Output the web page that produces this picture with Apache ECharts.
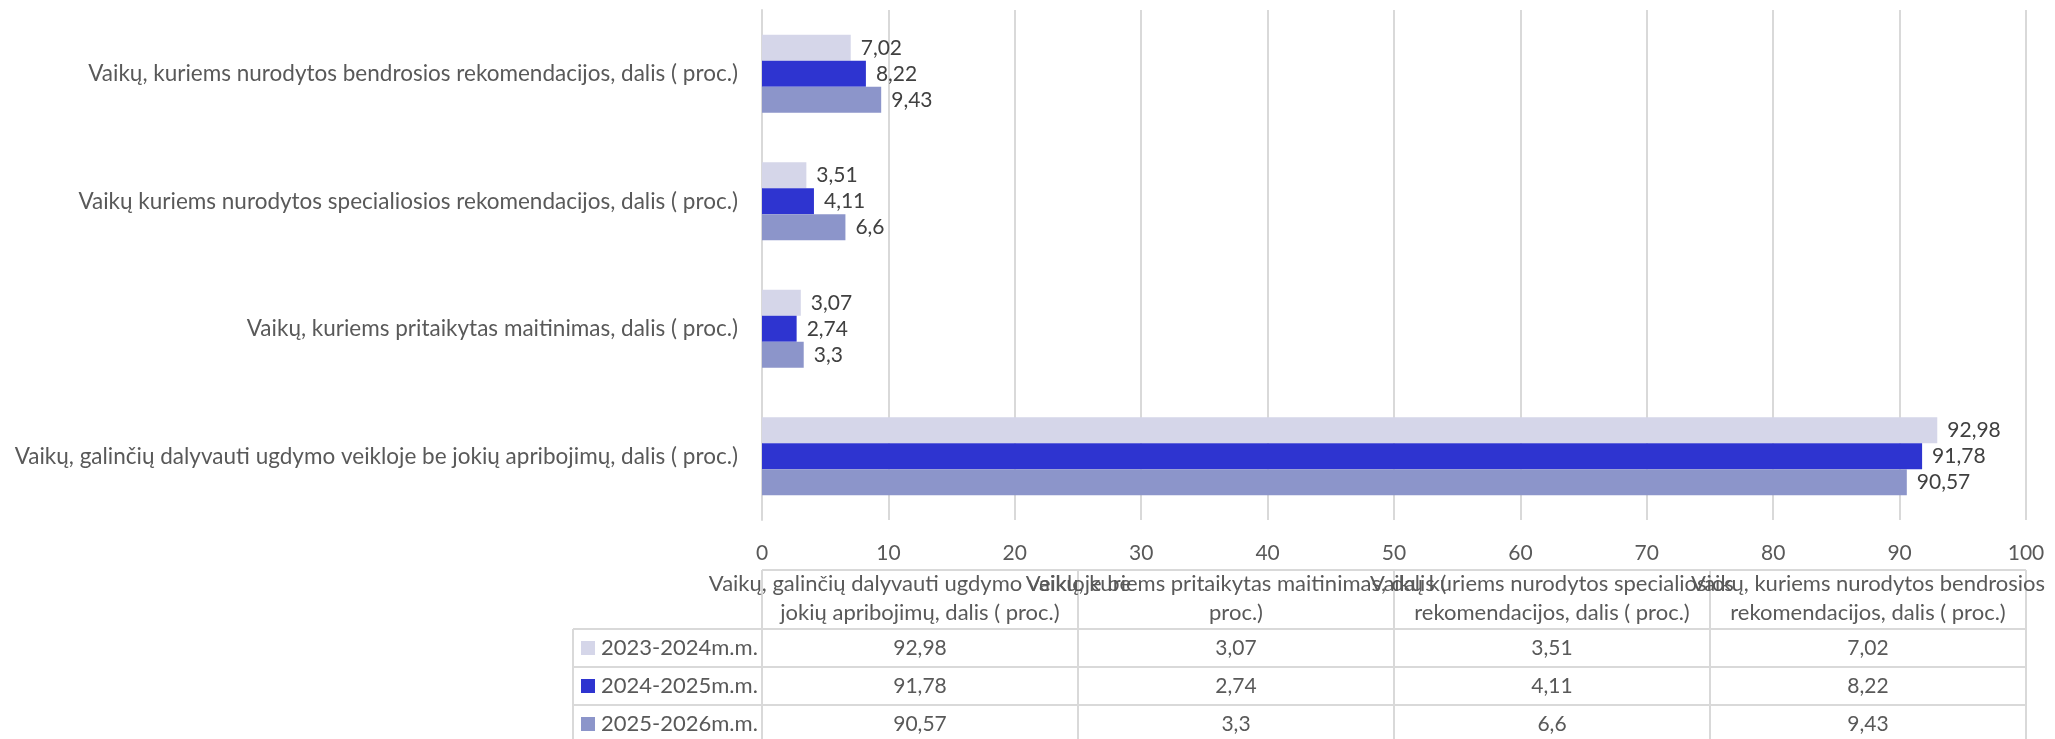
<!DOCTYPE html>
<html>
<head>
<meta charset="utf-8">
<title>Vaikų dalis</title>
<script src="https://cdn.jsdelivr.net/npm/echarts@6/dist/echarts.min.js"></script>
<style>
  html, body { margin: 0; padding: 0; background: #fff; }
  #chart { width: 2055px; height: 739px; }
</style>
</head>
<body>
<div id="chart"></div>
<script>
// kategorijos - nuo apacios i virsu (kaip duomenu lenteleje)
var categories = [
    'Vaikų, galinčių dalyvauti ugdymo veikloje be jokių apribojimų, dalis ( proc.)',
    'Vaikų, kuriems pritaikytas maitinimas, dalis ( proc.)',
    'Vaikų kuriems nurodytos specialiosios rekomendacijos, dalis ( proc.)',
    'Vaikų, kuriems nurodytos bendrosios rekomendacijos, dalis ( proc.)'
];
// lenteles antrastes (kaip Excel jas laužo)
var tableHeaders = [
    ['Vaikų, galinčių dalyvauti ugdymo veikloje be', 'jokių apribojimų, dalis ( proc.)'],
    ['Vaikų, kuriems pritaikytas maitinimas, dalis (', 'proc.)'],
    ['Vaikų kuriems nurodytos specialiosios', 'rekomendacijos, dalis ( proc.)'],
    ['Vaikų, kuriems nurodytos bendrosios', 'rekomendacijos, dalis ( proc.)']
];
var seriesNames = ['2023-2024m.m.', '2024-2025m.m.', '2025-2026m.m.'];
var values2023 = [92.98, 3.07, 3.51, 7.02];
var values2024 = [91.78, 2.74, 4.11, 8.22];
var values2025 = [90.57, 3.3, 6.6, 9.43];
var seriesColors = ['#D5D6E9', '#2E34D0', '#8C95CA'];

var FONT = 'Lato, "Open Sans", sans-serif';
var TXT = 22;   // tekstu dydis
var NUM = 21;   // skaiciu dydis

function fmt(v) {
    return String(v).replace('.', ',');
}

var chart = echarts.init(document.getElementById('chart'));

// grido ribos
var gLeft = 762, gRight = 2026, gTop = 10, gBottom = 520;
var W = 2055, H = 739;

// duomenu lentele po grafiku
function buildTable() {
    var els = [];
    var lineStyle = { stroke: '#D9D9D9', lineWidth: 2 };
    var colW = (gRight - gLeft) / categories.length;
    var headTop = 570, rowTop = 629, rowH = 38;
    var legLeft = 573;
    var allValues = [values2023, values2024, values2025];

    function line(x1, y1, x2, y2) {
        els.push({ type: 'line', silent: true, shape: { x1: x1, y1: y1, x2: x2, y2: y2 }, style: lineStyle });
    }
    function text(x, y, s, align, size) {
        els.push({
            type: 'text', silent: true, x: x, y: y,
            style: { text: s, font: size + 'px ' + FONT, fill: '#595959', align: align, verticalAlign: 'middle' }
        });
    }

    line(gLeft, headTop, gRight, headTop);
    for (var c = 0; c <= categories.length; c++) {
        line(gLeft + c * colW, headTop, gLeft + c * colW, H + 5);
    }
    line(legLeft, rowTop, legLeft, H + 5);
    for (var r = 0; r < 3; r++) {
        line(legLeft, rowTop + r * rowH, gRight, rowTop + r * rowH);
    }
    for (c = 0; c < categories.length; c++) {
        var cx = gLeft + (c + 0.5) * colW;
        text(cx, 584, tableHeaders[c][0], 'center', TXT);
        text(cx, 613, tableHeaders[c][1], 'center', TXT);
    }
    for (r = 0; r < 3; r++) {
        var cy = rowTop + r * rowH + rowH / 2;
        els.push({
            type: 'rect', silent: true,
            shape: { x: 581, y: cy - 7, width: 14, height: 14 },
            style: { fill: seriesColors[r] }
        });
        text(601, cy, seriesNames[r], 'left', TXT);
        for (c = 0; c < categories.length; c++) {
            text(gLeft + (c + 0.5) * colW, cy, fmt(allValues[r][c]), 'center', NUM);
        }
    }
    return els;
}

function barSeries(name, data, color) {
    return {
        name: name,
        type: 'bar',
        data: data,
        barWidth: 26,
        barGap: '0%',
        itemStyle: { color: color },
        label: {
            show: true,
            position: 'right',
            distance: 10,
            color: '#404040',
            fontFamily: FONT,
            fontSize: NUM,
            formatter: function (p) { return fmt(p.value); }
        },
        emphasis: { disabled: true }
    };
}

var option = {
    animation: false,
    backgroundColor: '#fff',
    textStyle: { fontFamily: FONT },
    grid: {
        left: gLeft,
        right: W - gRight,
        top: gTop,
        bottom: H - gBottom,
        containLabel: false
    },
    xAxis: {
        type: 'value',
        min: 0,
        max: 100,
        interval: 10,
        axisLine: { show: false },
        axisTick: { show: false },
        splitLine: { show: true, lineStyle: { color: '#D9D9D9', width: 2 } },
        axisLabel: { color: '#595959', fontSize: NUM, fontFamily: FONT, margin: 23 }
    },
    yAxis: {
        type: 'category',
        data: categories,
        axisLine: { show: true, lineStyle: { color: '#D9D9D9', width: 2 } },
        axisTick: { show: false },
        splitLine: { show: false },
        axisLabel: { color: '#595959', fontSize: 22.5, fontFamily: FONT, margin: 24 }
    },
    series: [
        barSeries(seriesNames[0], values2023, seriesColors[0]),
        barSeries(seriesNames[1], values2024, seriesColors[1]),
        barSeries(seriesNames[2], values2025, seriesColors[2])
    ],
    graphic: buildTable()
};

chart.setOption(option);
</script>
</body>
</html>
